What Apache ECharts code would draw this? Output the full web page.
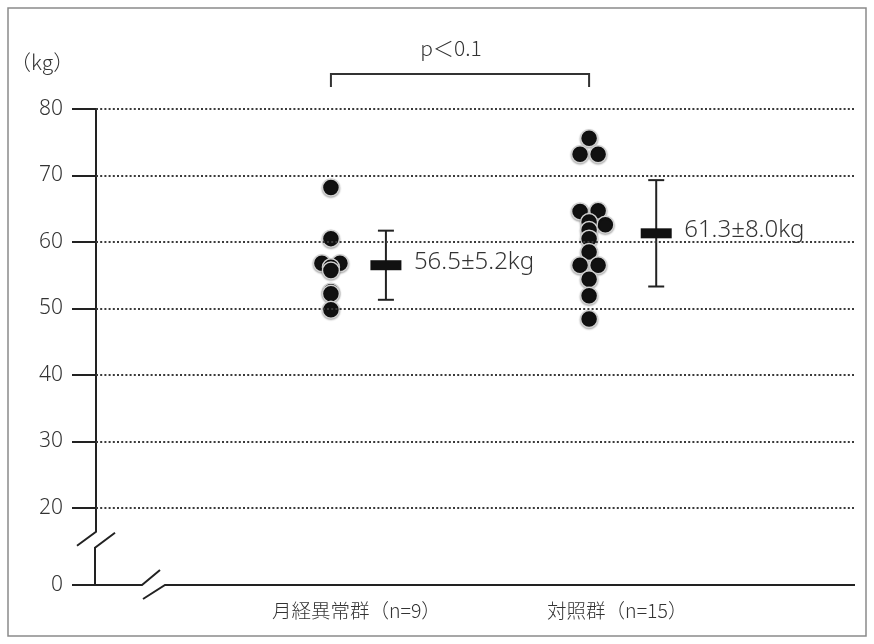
<!DOCTYPE html>
<html>
<head>
<meta charset="utf-8">
<script src="https://cdn.jsdelivr.net/npm/echarts@6/dist/echarts.min.js"></script>
<style>
  html, body { margin: 0; padding: 0; background: #fff; }
  #chart { width: 874px; height: 644px; }
</style>
</head>
<body>
<div id="chart"></div>
<script>
// Body weight (kg) of each subject, per group
const groupNames = ['月経異常群（n=9）', '対照群（n=15）'];
const groupAWeights = [68.2, 60.5, 56.8, 56.8, 56.2, 55.7, 52.5, 52.2, 49.8];
const groupASpread  = [0, 0, -1, 1, 0, 0, 0, 0, 0];          // lateral slot of each dot (beeswarm)
const groupBWeights = [75.6, 73.2, 73.2, 64.6, 64.7, 62.6, 63.0, 61.8, 60.5, 58.5, 56.5, 56.5, 54.4, 51.9, 48.4];
const groupBSpread  = [0, -1, 1, -1, 1, 1.8, 0, 0, 0, 0, -1, 1, 0, 0, 0];
// Mean ± SD per group
const groupMeans = [56.5, 61.3];
const groupSDs   = [5.2, 8.0];
// Y axis ticks (the scale is broken below 20)
const yTickValues = [20, 30, 40, 50, 60, 70, 80];
const yTickLabels = ['0', '20', '30', '40', '50', '60', '70', '80'];
const unitLabel = '（kg）';
const pValueLabel = 'p＜0.1';

// ---- layout constants ----
const axisFloor = 8.4;      // value sitting on the baseline after the axis break
const xMin = 0.09, xMax = 3.03;
const dotStep = 0.035;      // lateral spacing between side-by-side dots
const barShift = [0.213, 0.26];
const CJK = '"Noto Sans CJK JP", "Noto Sans", sans-serif';
const LATIN = '"Noto Sans", "Noto Sans CJK JP", sans-serif';
const TEXT = '#333';

const chart = echarts.init(document.getElementById('chart'), null, { renderer: 'canvas' });

const buildDots = (vals, spread, g) => vals.map((v, i) => [g + 1 + spread[i] * dotStep, v]);
const dotStyle = {
  color: '#111', opacity: 1, borderColor: '#d2d2d2', borderWidth: 1.5,
  shadowColor: 'rgba(0,0,0,0.3)', shadowBlur: 2, shadowOffsetY: 1
};

const option = {
  animation: false,
  backgroundColor: '#fff',
  grid: { left: 96, right: 19, top: 109, bottom: 59, containLabel: false },
  xAxis: {
    type: 'value', min: xMin, max: xMax,
    axisLine: { show: false }, axisTick: { show: false },
    axisLabel: { show: false }, splitLine: { show: false }
  },
  yAxis: {
    type: 'value', min: axisFloor, max: 80,
    axisLine: { show: false },
    splitLine: { show: false },
    axisTick: {
      show: true, length: 24, inside: false,
      customValues: [axisFloor].concat(yTickValues),
      lineStyle: { color: '#222', width: 2 }
    },
    axisLabel: {
      show: true, margin: 33,
      customValues: [axisFloor].concat(yTickValues),
      formatter: (v) => {
        const idx = [axisFloor].concat(yTickValues).findIndex(t => Math.abs(t - v) < 1e-6);
        return idx >= 0 ? yTickLabels[idx] : '';
      },
      color: TEXT, fontSize: 21, fontFamily: LATIN, fontWeight: 300
    }
  },
  series: [
    {
      // dotted reference lines
      type: 'line', data: [], z: 1, silent: true,
      markLine: {
        silent: true, symbol: 'none', animation: false,
        label: { show: false },
        lineStyle: { color: '#3a3a3a', width: 2, type: [2, 2.2] },
        emphasis: { disabled: true },
        data: yTickValues.map(v => ({ yAxis: v }))
      }
    },
    {
      type: 'scatter', z: 3, symbol: 'circle', symbolSize: 17,
      itemStyle: dotStyle, emphasis: { disabled: true },
      data: buildDots(groupAWeights, groupASpread, 0)
    },
    {
      type: 'scatter', z: 3, symbol: 'circle', symbolSize: 17,
      itemStyle: dotStyle, emphasis: { disabled: true },
      data: buildDots(groupBWeights, groupBSpread, 1)
    },
    {
      // mean bar with ±SD whiskers and its label
      type: 'custom', z: 4,
      data: groupMeans.map((m, i) => [i + 1 + barShift[i], m, groupSDs[i]]),
      renderItem: (params, api) => {
        const x = api.value(0), m = api.value(1), s = api.value(2);
        const c = api.coord([x, m]);
        const hi = api.coord([x, m + s]);
        const lo = api.coord([x, m - s]);
        const line = { stroke: '#222', lineWidth: 2 };
        return {
          type: 'group',
          children: [
            { type: 'line', shape: { x1: c[0], y1: hi[1], x2: c[0], y2: lo[1] }, style: line },
            { type: 'line', shape: { x1: c[0] - 8, y1: hi[1], x2: c[0] + 8, y2: hi[1] }, style: line },
            { type: 'line', shape: { x1: c[0] - 8, y1: lo[1], x2: c[0] + 8, y2: lo[1] }, style: line },
            { type: 'rect', shape: { x: c[0] - 15.5, y: c[1] - 5, width: 31, height: 10 }, style: { fill: '#111' } },
            { type: 'text', style: {
                text: m.toFixed(1) + '±' + s.toFixed(1) + 'kg',
                x: c[0] + 28, y: c[1] - 3, verticalAlign: 'middle', align: 'left',
                fill: TEXT, font: '300 24px ' + LATIN } }
          ]
        };
      }
    }
  ]
};

chart.setOption(option);

// Broken axes, bracket, captions – positioned through the chart's own scales
const px = (x, y) => chart.convertToPixel({ gridIndex: 0 }, [x, y]);
const ax = px(xMin, 80)[0];
const yTop = px(xMin, 80)[1];
const yBase = px(xMin, axisFloor)[1];
const yBreakHi = px(xMin, 16.4)[1];
const yBreakLo = px(xMin, 14.0)[1];
const xRight = px(xMax, 50)[0];
const g1 = px(1, 80)[0], g2 = px(2, 80)[0];
const axisStyle = { stroke: '#222', lineWidth: 2, fill: null };

chart.setOption({
  graphic: [
    { type: 'rect', silent: true, shape: { x: 8, y: 8, width: 858, height: 628 },
      style: { stroke: '#8a8a8a', lineWidth: 1.5, fill: null } },
    { type: 'polyline', silent: true, shape: { points: [[ax, yTop], [ax, yBreakHi], [ax - 19, yBreakHi + 14]] }, style: axisStyle },
    { type: 'polyline', silent: true,
      shape: { points: [[ax + 19, yBreakLo - 15], [ax - 1, yBreakLo], [ax - 1, yBase], [ax + 46, yBase], [ax + 64, yBase - 15]] },
      style: axisStyle },
    { type: 'polyline', silent: true, shape: { points: [[ax + 47, yBase + 14], [ax + 69, yBase], [xRight, yBase]] }, style: axisStyle },
    { type: 'polyline', silent: true, shape: { points: [[g1, 87], [g1, 74], [g2, 74], [g2, 87]] },
      style: { stroke: '#333', lineWidth: 2, fill: null } },
    { type: 'text', silent: true, style: { text: pValueLabel, x: (g1 + g2) / 2 - 9, y: 48, align: 'center', verticalAlign: 'middle',
      fill: TEXT, font: '300 21px ' + CJK } },
    { type: 'text', silent: true, style: { text: unitLabel, x: 10, y: 62, align: 'left', verticalAlign: 'middle',
      fill: TEXT, font: '300 21px ' + CJK } },
    { type: 'text', silent: true, style: { text: groupNames[0], x: g1 - 59, y: 611, align: 'left', verticalAlign: 'middle',
      fill: TEXT, font: '300 19.5px ' + CJK } },
    { type: 'text', silent: true, style: { text: groupNames[1], x: g2 - 42, y: 611, align: 'left', verticalAlign: 'middle',
      fill: TEXT, font: '300 19.5px ' + CJK } }
  ]
});
</script>
</body>
</html>
